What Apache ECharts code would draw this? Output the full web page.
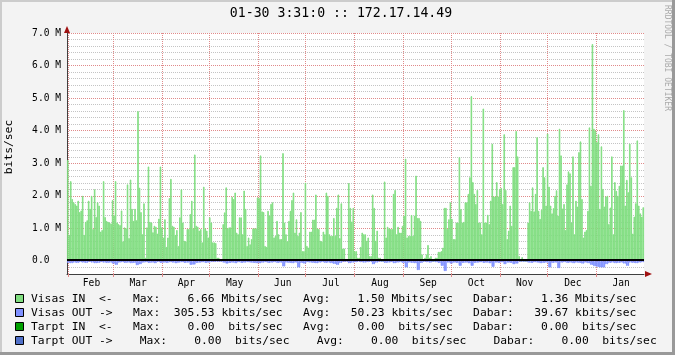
<!DOCTYPE html>
<html>
<head>
<meta charset="utf-8">
<script src="https://cdn.jsdelivr.net/npm/echarts@6/dist/echarts.min.js"></script>
<style>
html, body { margin: 0; padding: 0; background: #f3f3f3; }
#main { width: 675px; height: 355px; }
</style>
</head>
<body>
<div id="main"></div>
<script>
// months shown on the x axis, and the day (from Jan 31) each one starts on
var months = ['Feb', 'Mar', 'Apr', 'May', 'Jun', 'Jul', 'Aug', 'Sep', 'Oct', 'Nov', 'Dec', 'Jan'];
var monthStartDays = [1, 29, 60, 90, 121, 151, 182, 213, 243, 274, 304, 335];
var periodDays = 365;

// Visas IN, Mbits/sec, one value per ~day, left to right
var visasIn = [
    3.1,0.8, 2.45,1.9, 1.8,1.75, 1.7,1.85, 1.5,1.55, 2.0,0.8, 1.2,1.25, 1.85,1.6,
    2.0,0.98, 2.2,1.35, 1.8,1.7, 0.9,0.95, 2.45,1.35, 1.23,1.2, 1.18,1.15, 1.87,1.4,
    2.45,1.18, 1.13,1.1, 1.55,0.6, 1.03,1.0, 2.35,0.7, 2.5,1.6, 1.23,1.6, 1.25,4.6,
    2.25,1.5, 0.82,1.77, 0.1,1.03, 2.9,1.2, 1.18,0.88, 1.08,1.05, 0.84,1.3, 2.9,1.03,

    0.72,1.28, 0.43,0.72, 1.93,2.52, 1.08,1.05, 0.8,0.95, 0.46,1.34, 2.2,1.18, 0.62,0.6,
    0.98,0.98, 1.44,1.85, 1.0,3.27, 1.08,1.05, 0.93,0.98, 0.57,2.28, 1.0,0.93, 0.72,1.34,
    1.18,0.57, 0.57,0.55, 0.1,0.1, 0.02,0.02, 1.13,1.49, 2.26,1.0, 1.03,1.03, 1.97,1.9,
    2.1,0.87, 0.82,1.34, 1.34,0.82, 2.16,1.6, 0.46,0.72, 0.51,0.67, 1.0,1.0, 1.0,1.95,

    1.93,3.24, 1.52,1.5, 0.46,0.43, 1.54,1.39, 1.75,1.8, 0.72,0.77, 1.23,0.82, 0.67,0.67,
    3.31,1.18, 0.82,0.6, 1.23,1.54, 1.87,2.1, 0.87,1.28, 0.77,0.87, 1.5,0.3, 0.3,2.4,
    0.46,0.41, 0.9,0.9, 1.27,1.27, 2.04,1.0, 0.98,0.62, 0.6,0.9, 0.82,2.1, 2.0,0.82,
    0.77,0.77, 1.32,0.77, 1.63,2.04, 0.7,1.77, 0.38,0.38, 0.03,0.03, 2.39,1.63, 1.21,1.63, 0.3,0.3,

    0.1,0.1, 0.43,0.87, 0.82,0.82, 0.62,0.72, 0.15,0.15, 2.04,1.63, 0.62,0.93, 0.1,0.1,
    0,0, 2.44,0.72, 1.05,1.0, 0.98,0.98, 2.06,2.18, 0.82,1.05, 0.87,0.87, 1.08,1.39,
    3.14,0.72, 0.77,0.77, 1.41,0.77, 1.39,2.62, 1.32,1.32, 1.23,0.2, 0,0.1, 0.2,0.49,
    0.1,0.15, 0,0, 0.1,0.1, 0.28,0.28, 0.3,0.41, 1.63,1.63, 0.98,1.28, 1.8,1.29,

    0.67,0.67, 1.18,1.18, 3.19,1.59, 1.18,1.2, 1.8,1.8, 2.06,2.57, 5.06,2.42, 2.06,1.75,
    2.18,1.18, 1.18,0.82, 4.68,1.18, 1.18,1.42, 1.13,1.85, 3.6,1.98, 1.98,2.42, 1.98,2.21,
    2.24,1.75, 3.89,2.18, 0.67,0.93, 1.7,1.08, 2.88,2.88, 3.99,3.21, 0.15,0, 0.12,0,
    0,0, 1.18,1.8, 1.54,2.26, 1.52,2.06, 3.8,1.54, 1.29,1.57, 2.88,2.57, 1.7,3.91,

    2.28,1.7, 1.46,1.62, 2.0,2.17, 1.39,4.06, 3.24,1.61, 1.75,0.95, 2.35,2.75, 2.69,1.18,
    3.21,0.82, 1.85,1.67, 3.34,3.67, 1.9,0.72, 0.9,0.95, 1.54,4.1, 2.31,6.66, 4.06,4.0,
    3.65,3.89, 1.6,3.52, 2.21,1.67, 1.98,2.0, 1.13,1.64, 3.21,0.82, 2.42,2.15, 2.0,2.31,
    2.93,2.93, 4.63,1.7, 2.49,2.11, 3.6,2.57, 0.84,1.36, 1.77,3.7, 1.7,1.46, 1.36,1.65
];

// Visas OUT, Mbits/sec, one value per two IN values (drawn below zero)
var visasOut = [
    0.06,0.07,0.05,0.06,0.04,0.05,0.06,0.03,0.05,0.07,0.06,0.04,0.05,0.06,0.05,0.08,
    0.12,0.05,0.04,0.06,0.05,0.07,0.06,0.13,0.1,0.05,0.04,0.06,0.05,0.07,0.03,0.06,
    0.05,0.06,0.04,0.05,0.07,0.05,0.04,0.06,0.05,0.12,0.11,0.06,0.05,0.04,0.06,0.05,
    0.03,0.03,0.01,0.01,0.05,0.08,0.06,0.05,0.07,0.04,0.06,0.05,0.04,0.05,0.06,0.07,
    0.07,0.05,0.04,0.06,0.05,0.04,0.06,0.05,0.17,0.05,0.06,0.07,0.05,0.2,0.06,0.08,
    0.04,0.05,0.06,0.07,0.05,0.04,0.06,0.05,0.07,0.09,0.12,0.06,0.03,0.01,0.07,0.05,0.04,
    0.02,0.04,0.05,0.04,0.03,0.1,0.05,0.02,0.01,0.06,0.05,0.04,0.07,0.05,0.04,0.06,
    0.2,0.05,0.06,0.07,0.28,0.06,0.03,0.04,0.05,0.02,0.04,0.06,0.15,0.31,0.05,0.08,
    0.05,0.06,0.15,0.06,0.05,0.07,0.15,0.06,0.05,0.04,0.06,0.05,0.07,0.18,0.05,0.06,
    0.04,0.1,0.05,0.06,0.1,0.08,0.02,0.01,0.01,0.05,0.06,0.04,0.05,0.07,0.06,0.05,
    0.2,0.06,0.05,0.22,0.05,0.04,0.06,0.05,0.07,0.05,0.06,0.08,0.05,0.07,0.12,0.16,
    0.18,0.2,0.2,0.1,0.06,0.05,0.07,0.06,0.05,0.08,0.15,0.05,0.06,0.07,0.05,0.04
];

var titleText = '01-30 3:31:0 :: 172.17.14.49';
var legendColors = ['#7fdd7f', '#7f90ff', '#00a000', '#5070c8'];
var legendLines = [
    'Visas IN  <-   Max:    6.66 Mbits/sec   Avg:    1.50 Mbits/sec   Dabar:    1.36 Mbits/sec',
    'Visas OUT ->   Max:  305.53 kbits/sec   Avg:   50.23 kbits/sec   Dabar:   39.67 kbits/sec',
    'Tarpt IN  <-   Max:    0.00  bits/sec   Avg:    0.00  bits/sec   Dabar:    0.00  bits/sec',
    'Tarpt OUT ->    Max:    0.00  bits/sec    Avg:    0.00  bits/sec    Dabar:    0.00  bits/sec'
];

var MONO = '"DejaVu Sans Mono", "Liberation Mono", monospace';
var minorColor = '#c4c4c4';
var majorColor = '#e08a8a';

var chart = echarts.init(document.getElementById('main'));

var bins = visasIn.map(function (v, i) { return i; });
var outData = visasIn.map(function (v, i) {
    return -visasOut[Math.min(visasOut.length - 1, Math.floor(i / 2))];
});
var labelDays = months.map(function (m, i) {
    var end = i + 1 < monthStartDays.length ? monthStartDays[i + 1] : periodDays;
    return (monthStartDays[i] + end) / 2 + 0.5;
});

function yLabel(v) {
    var r = Math.round(v);
    if (Math.abs(v - r) > 1e-6 || r < 0) return '';
    return r === 0 ? '0.0  ' : r.toFixed(1) + ' M';
}

var graphics = [
    // 3d frame
    { type: 'rect', shape: { x: 0, y: 0, width: 675, height: 2 }, style: { fill: '#cccccc' } },
    { type: 'rect', shape: { x: 0, y: 0, width: 2, height: 355 }, style: { fill: '#cccccc' } },
    { type: 'rect', shape: { x: 0, y: 352, width: 675, height: 3 }, style: { fill: '#999999' } },
    { type: 'rect', shape: { x: 672, y: 0, width: 3, height: 355 }, style: { fill: '#999999' } },
    {
        type: 'text', x: 341, y: 14,
        style: { text: titleText, font: '13.2px ' + MONO, fill: '#000', align: 'center', verticalAlign: 'middle' }
    },
    {
        type: 'text', x: 9, y: 147, rotation: Math.PI / 2,
        style: { text: 'bits/sec', font: '11.3px ' + MONO, fill: '#000', align: 'center', verticalAlign: 'middle' }
    },
    {
        type: 'text', x: 667, y: 5, rotation: -Math.PI / 2,
        style: { text: 'RRDTOOL / TOBI OETIKER', font: '8px ' + MONO, fill: '#aaaaaa', align: 'left', verticalAlign: 'middle' }
    },
    // axis arrows
    { type: 'polygon', shape: { points: [[64, 33], [70, 33], [67, 26]] }, style: { fill: '#a01010' } },
    { type: 'polygon', shape: { points: [[645, 271], [645, 277], [652, 274]] }, style: { fill: '#a01010' } }
];
// legend: colour boxes + monospace lines
legendLines.forEach(function (line, i) {
    var cy = 299 + i * 14;
    graphics.push({
        type: 'rect', shape: { x: 15.5, y: cy - 4.5, width: 8, height: 8 },
        style: { fill: legendColors[i], stroke: '#000', lineWidth: 1 }
    });
    graphics.push({
        type: 'text', x: 31, y: cy,
        style: { text: line, font: '11.3px ' + MONO, fill: '#000', align: 'left', verticalAlign: 'middle' }
    });
});

var option = {
    animation: false,
    backgroundColor: '#f3f3f3',
    grid: { left: 67, right: 31, top: 33, bottom: 81, show: true, backgroundColor: '#ffffff', borderWidth: 0 },
    xAxis: [
        {
            type: 'category',
            data: bins,
            boundaryGap: true,
            show: false,
            axisLine: { onZero: false }
        },
        {
            type: 'value',
            min: 0,
            max: periodDays,
            position: 'bottom',
            axisLine: { show: true, onZero: false, lineStyle: { color: '#404040', width: 1 } },
            axisTick: { show: true, length: 3, customValues: monthStartDays, lineStyle: { color: majorColor } },
            axisLabel: {
                customValues: labelDays,
                margin: 4,
                fontFamily: MONO,
                fontSize: 9.6,
                color: '#000',
                formatter: function (v) {
                    var i = labelDays.indexOf(v);
                    return i >= 0 ? months[i] : '';
                }
            },
            splitLine: { show: true, lineStyle: { color: majorColor, type: [1, 1], width: 1 } }
        }
    ],
    yAxis: {
        type: 'value',
        min: -0.4,
        max: 7,
        interval: 0.2,
        axisLine: { show: true, lineStyle: { color: '#404040', width: 1 } },
        axisTick: { show: false },
        axisLabel: { fontFamily: MONO, fontSize: 9.6, color: '#000', margin: 6, formatter: yLabel },
        splitLine: {
            show: true,
            showMinLine: true,
            lineStyle: {
                color: [minorColor, minorColor, majorColor, minorColor, minorColor],
                type: [1, 1],
                width: 1
            }
        }
    },
    series: [
        {
            name: 'Visas IN',
            type: 'bar',
            xAxisIndex: 0,
            data: visasIn,
            barCategoryGap: '0%',
            barGap: '-100%',
            itemStyle: { color: legendColors[0], borderColor: legendColors[0], borderWidth: 0.8 },
            markLine: {
                silent: true,
                symbol: 'none',
                label: { show: false },
                lineStyle: { color: '#000', width: 2, type: 'solid' },
                // drawn just above the zero line so the OUT band stays visible
                data: [{ yAxis: 0.03 }]
            }
        },
        {
            name: 'Visas OUT',
            type: 'bar',
            xAxisIndex: 0,
            data: outData,
            barCategoryGap: '0%',
            barGap: '-100%',
            itemStyle: { color: legendColors[1], borderColor: legendColors[1], borderWidth: 0.8 }
        }
    ],
    graphic: graphics
};

chart.setOption(option);
</script>
</body>
</html>
